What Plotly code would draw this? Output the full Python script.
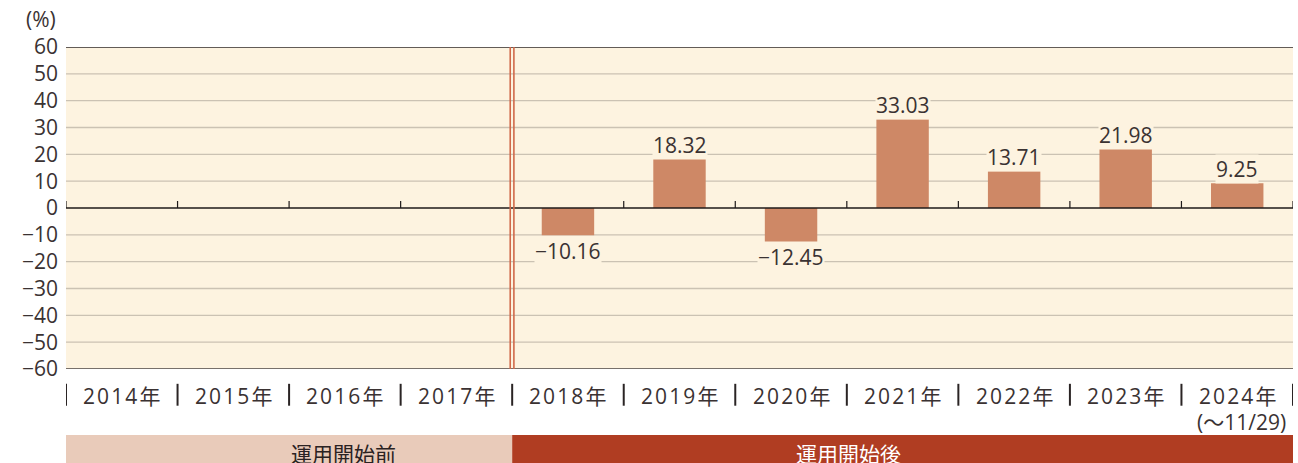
import plotly.graph_objects as go

years = ["2014年", "2015年", "2016年", "2017年", "2018年", "2019年", "2020年", "2021年", "2022年", "2023年", "2024年"]
values = [None, None, None, None, -10.16, 18.32, -12.45, 33.03, 13.71, 21.98, 9.25]
value_labels = ["", "", "", "", "−10.16", "18.32", "−12.45", "33.03", "13.71", "21.98", "9.25"]
y_ticks = [60, 50, 40, 30, 20, 10, 0, -10, -20, -30, -40, -50, -60]
y_ticktext = ["60", "50", "40", "30", "20", "10", "0", "−10", "−20", "−30", "−40", "−50", "−60"]
period_labels = ["運用開始前", "運用開始後"]
last_note = "(〜11/29)"
start_index = 4  # first year after start

FONT = "Open Sans, Noto Sans CJK JP, sans-serif"
CJK = "Noto Sans CJK JP, sans-serif"
TXT = "#3a3232"
BG = "#FDF3E0"
BAR = "#CE8866"
N = len(years)
FS = 21
HS = "\u200a"


def spaced(s):
    return HS.join(list(s))


x = list(range(N))
fig = go.Figure()
fig.add_trace(go.Bar(x=x, y=values, marker=dict(color=BAR, line=dict(width=0)), width=0.47, hoverinfo="skip"))

shapes = []
annotations = []

# gridlines
for v in y_ticks:
    if v in (60, -60, 0):
        continue
    shapes.append(dict(type="line", xref="paper", yref="y", x0=0, x1=1, y0=v, y1=v,
                       line=dict(color="#CBC2B3", width=1.3), layer="below"))
# borders
shapes.append(dict(type="line", xref="paper", yref="y", x0=0, x1=1, y0=60, y1=60, line=dict(color="#2e2a2a", width=1.5)))
shapes.append(dict(type="line", xref="paper", yref="y", x0=0, x1=1, y0=-60, y1=-60, line=dict(color="#4a4444", width=1.5)))
shapes.append(dict(type="line", xref="paper", yref="y", x0=0, x1=1, y0=0, y1=0, line=dict(color="#1e1a1a", width=1.5)))

# small ticks on zero line at category boundaries
for k in range(N + 1):
    if k == start_index:
        continue
    shapes.append(dict(type="line", xref="x", yref="y", x0=k - 0.5, x1=k - 0.5, y0=0, y1=2.6,
                       line=dict(color="#1e1a1a", width=1.2)))

# double red line between periods
sep = start_index / N
for off in (-0.0016, 0.0014):
    shapes.append(dict(type="line", xref="paper", yref="y", x0=sep + off, x1=sep + off, y0=-60, y1=60,
                       line=dict(color="#D0694A", width=1.6)))

# value labels
for i, (v, t) in enumerate(zip(values, value_labels)):
    if v is None:
        continue
    annotations.append(dict(x=i, y=v, xref="x", yref="y", text=t, showarrow=False,
                            yanchor="bottom" if v > 0 else "top", yshift=-1 if v > 0 else -1,
                            font=dict(family=FONT, size=FS, color=TXT),
                            bgcolor=BG, borderpad=0))

# year labels with separators
for i, yl in enumerate(years):
    annotations.append(dict(x=i, y=-0.085, xref="x", yref="paper", text=spaced(yl), showarrow=False,
                            yanchor="middle", font=dict(family=FONT, size=FS, color=TXT)))
for k in range(N + 1):
    shapes.append(dict(type="line", xref="x", yref="paper", x0=k - 0.5, x1=k - 0.5, y0=-0.046, y1=-0.114,
                       line=dict(color="#2a2424", width=2)))
annotations.append(dict(x=N - 1 + 0.04, y=-0.165, xref="x", yref="paper", text=last_note, showarrow=False,
                        yanchor="middle", font=dict(family=FONT, size=FS, color=TXT)))

# period bands
bands = [(0, sep, "#E9CBBA", "#2a2222", period_labels[0]), (sep, 1, "#B03D22", "#ffffff", period_labels[1])]
for x0, x1, col, tc, lab in bands:
    shapes.append(dict(type="rect", xref="paper", yref="paper", x0=x0, x1=x1, y0=-0.30, y1=-0.205,
                       fillcolor=col, line=dict(width=0)))
    annotations.append(dict(x=(x0 + x1) / 2, y=-0.26, xref="paper", yref="paper", text=lab, showarrow=False,
                            yanchor="middle", font=dict(family=CJK, size=FS, color=tc, weight=400)))

# (%) label
annotations.append(dict(x=0, y=1.0, xref="paper", yref="paper", text="(%)", showarrow=False,
                        xanchor="right", yanchor="bottom", xshift=-8, yshift=12,
                        font=dict(family=FONT, size=FS, color=TXT)))

fig.update_layout(
    width=1298, height=463,
    margin=dict(l=66, r=5, t=47, b=94, autoexpand=False),
    paper_bgcolor="#ffffff", plot_bgcolor=BG,
    showlegend=False,
    shapes=shapes, annotations=annotations,
    xaxis=dict(range=[-0.5, N - 0.5], showticklabels=False, showgrid=False, zeroline=False, showline=False, ticks=""),
    yaxis=dict(range=[-60, 60], tickvals=y_ticks, ticktext=y_ticktext, showgrid=False, zeroline=False,
               showline=False, ticks="", ticklabelstandoff=7, automargin=False,
               tickfont=dict(family=FONT, size=FS, color=TXT)),
    font=dict(family=FONT),
)

fig.write_html("out.html", config={"displayModeBar": False},
               post_script="document.body.style.margin='0';document.body.style.overflow='hidden';")
